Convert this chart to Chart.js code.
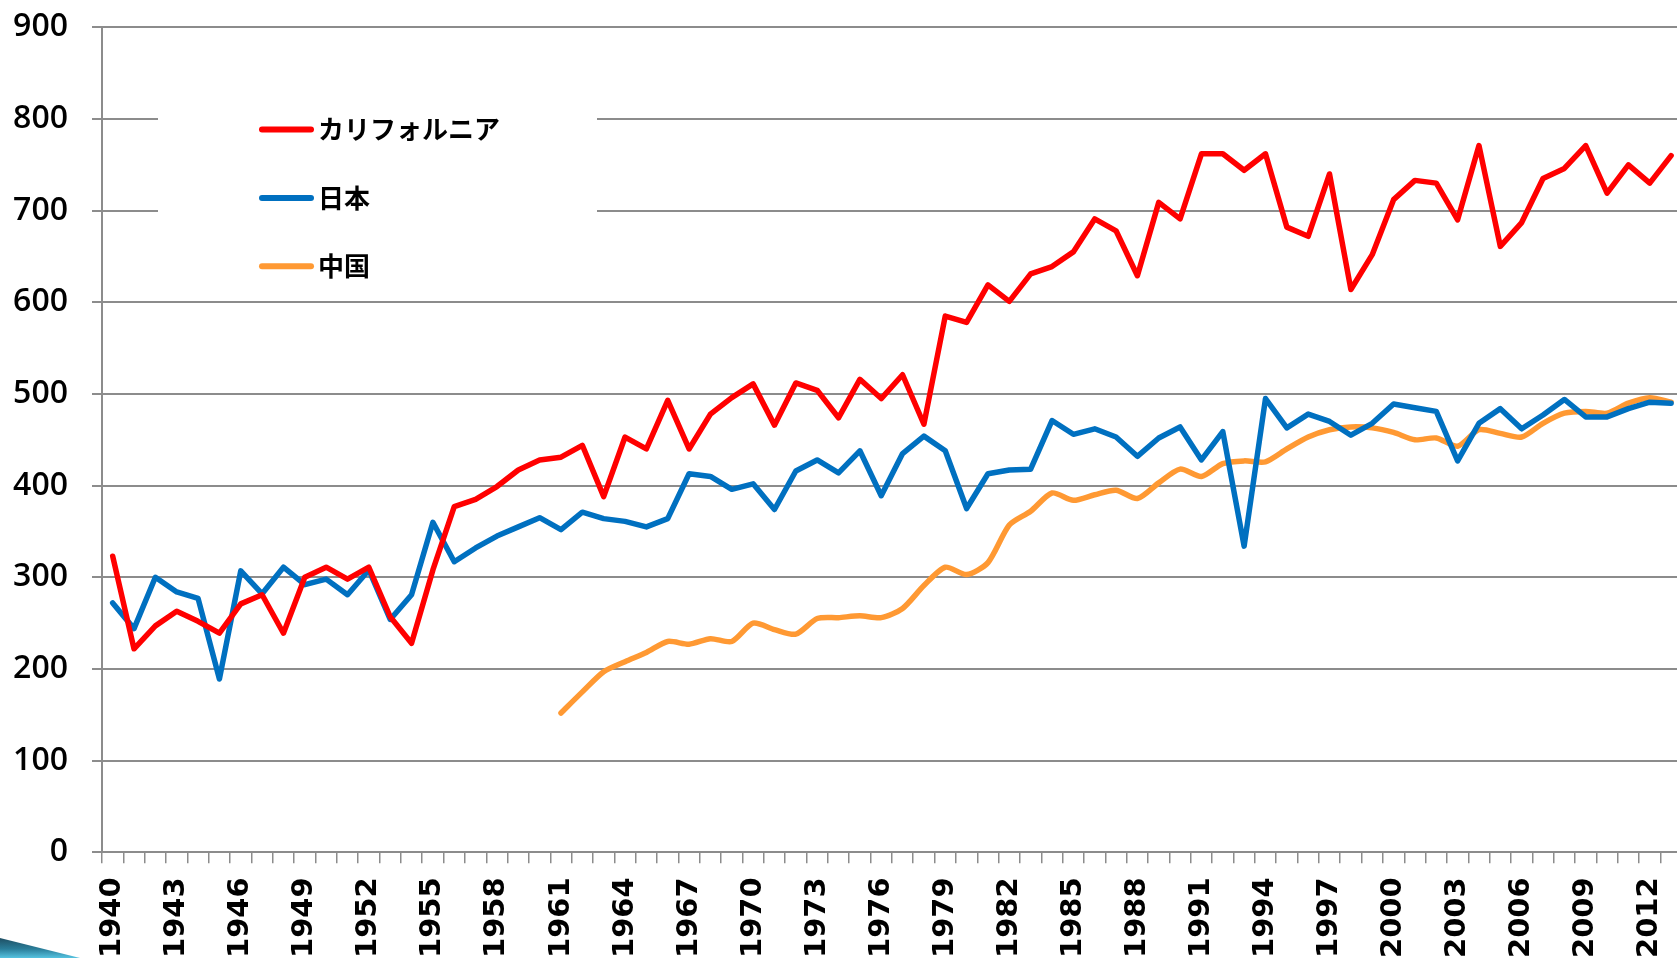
<!DOCTYPE html>
<html>
<head>
<meta charset="utf-8">
<script src="https://cdn.jsdelivr.net/npm/chart.js@4.4.1/dist/chart.umd.min.js"></script>
<style>
html,body{margin:0;padding:0;background:#fff;overflow:hidden;width:1677px;height:958px;}
#wrap{position:absolute;left:0;top:0;width:1720px;height:958px;}
#deco{position:absolute;left:0;top:938px;width:80px;height:20px;
 background:linear-gradient(180deg,#1f4f63 0%,#2a7e9a 55%,#56c3e0 100%);
 clip-path:polygon(0 0,100% 100%,0 100%);}
</style>
</head>
<body>
<div id="wrap"><canvas id="c" width="1720" height="958"></canvas></div>
<div id="deco"></div>
<script>
const years = [1940,1941,1942,1943,1944,1945,1946,1947,1948,1949,
 1950,1951,1952,1953,1954,1955,1956,1957,1958,1959,
 1960,1961,1962,1963,1964,1965,1966,1967,1968,1969,
 1970,1971,1972,1973,1974,1975,1976,1977,1978,1979,
 1980,1981,1982,1983,1984,1985,1986,1987,1988,1989,
 1990,1991,1992,1993,1994,1995,1996,1997,1998,1999,
 2000,2001,2002,2003,2004,2005,2006,2007,2008,2009,
 2010,2011,2012,2013];

const california = [323,222,247,263,252,239,271,281,239,300,
 311,298,311,257,228,308,377,385,399,417,
 428,431,444,388,453,440,493,440,478,496,
 511,466,512,504,474,516,495,521,467,585,
 578,619,601,631,639,655,691,678,629,709,
 691,762,762,744,762,682,672,740,614,652,
 712,733,730,690,771,661,687,735,746,771,
 719,750,730,760];

const japan = [272,244,300,284,277,189,307,282,311,292,
 298,281,308,254,281,360,317,332,345,355,
 365,352,371,364,361,355,364,413,410,396,
 402,374,416,428,414,438,389,435,454,438,
 375,413,417,418,471,456,462,453,432,452,
 464,428,459,334,495,463,478,470,455,468,
 489,485,481,427,468,484,462,477,494,475,
 475,484,491,490];

const china = [null,null,null,null,null,null,null,null,null,null,
 null,null,null,null,null,null,null,null,null,null,
 null,152,175,197,208,218,230,227,233,230,
 250,243,238,255,256,258,256,266,291,311,
 303,316,357,372,392,384,390,395,386,403,
 418,410,424,427,426,440,453,461,464,463,
 458,450,452,443,461,457,453,468,479,481,
 479,490,496,491];

const seriesNames = ['カリフォルニア','日本','中国'];
const seriesColors = ['#FF0000','#0070C0','#FF9933'];
const yMin = 0, yMax = 900, yStep = 100;
const labelEvery = 3;

const legendPlugin = {
  id:'insideLegend',
  beforeDatasetsDraw(chart){
    const ctx = chart.ctx;
    ctx.save();
    ctx.fillStyle = '#ffffff';
    ctx.fillRect(158, 50, 439, 246);
    const rows = [129.4, 197.9, 266.3];
    chart.data.datasets.forEach((ds, i) => {
      const y = rows[i];
      ctx.strokeStyle = ds.borderColor;
      ctx.lineWidth = 6;
      ctx.lineCap = 'round';
      ctx.beginPath();
      ctx.moveTo(262, y);
      ctx.lineTo(311, y);
      ctx.stroke();
      ctx.fillStyle = '#000';
      ctx.font = 'bold 26px "Noto Sans CJK JP"';
      ctx.textAlign = 'left';
      ctx.textBaseline = 'middle';
      ctx.fillText(ds.label, 318, y);
    });
    ctx.restore();
  }
};

const gridColor = '#8c8c8c';

new Chart(document.getElementById('c').getContext('2d'), {
  type:'line',
  data:{
    labels: years,
    datasets:[
      {label:seriesNames[0], data:california, borderColor:seriesColors[0], tension:0},
      {label:seriesNames[1], data:japan, borderColor:seriesColors[1], tension:0},
      {label:seriesNames[2], data:china, borderColor:seriesColors[2], tension:0.25}
    ]
  },
  options:{
    responsive:false,
    animation:false,
    layout:{padding:{left:0, right:14, top:27.3, bottom:0}},
    plugins:{legend:{display:false}, tooltip:{enabled:false}},
    elements:{
      point:{radius:0},
      line:{borderWidth:5.5, borderJoinStyle:'round', borderCapStyle:'round', fill:false}
    },
    scales:{
      x:{
        type:'category',
        offset:true,
        grid:{offset:true, drawOnChartArea:false, drawTicks:true, tickLength:11, color:gridColor, lineWidth:1.5},
        border:{display:true, color:gridColor, width:2},
        ticks:{
          autoSkip:false, maxRotation:90, minRotation:90, padding:14, color:'#000',
          font:{family:'DejaVu Sans', size:29, weight:'bold'},
          callback:(v,i)=> (i % labelEvery === 0 ? String(years[i]) : '')
        },
        afterFit(s){ s.height = 105.7; }
      },
      y:{
        min:yMin, max:yMax,
        ticks:{stepSize:yStep, padding:24, color:'#000', font:{family:'Open Sans', size:32, weight:'600'}},
        grid:{color:gridColor, lineWidth:2, tickLength:10},
        border:{display:true, color:gridColor, width:2},
        afterFit(s){ s.width = 102; s.paddingTop = 0; s.paddingBottom = 0; }
      }
    }
  },
  plugins:[legendPlugin]
});
</script>
</body>
</html>
